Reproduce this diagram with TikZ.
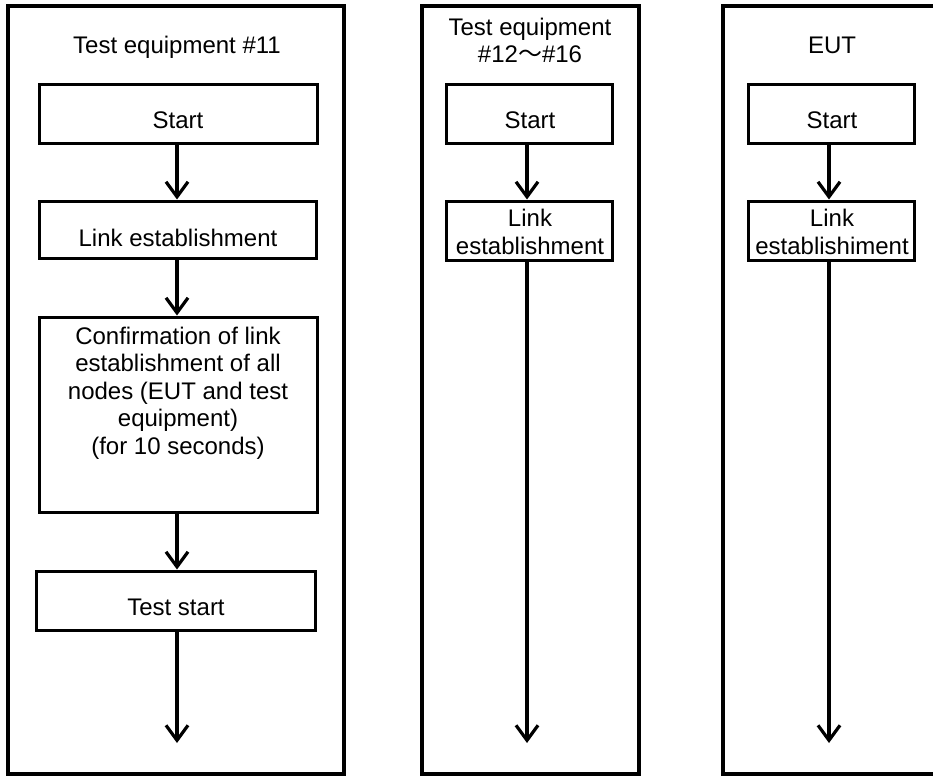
\documentclass[tikz,border=0pt]{standalone}
\usepackage{fontspec}
\setmainfont{Liberation Sans}
\newfontfamily\cjk{Noto Sans CJK JP}
\usetikzlibrary{arrows.meta}

\begin{document}
\begin{tikzpicture}[x=1pt,y=-1pt,
  panel/.style={draw,line width=3.5pt},
  stepbox/.style={draw,line width=3pt,rectangle,inner sep=0pt},
  txt/.style={anchor=base,inner sep=0pt,font=\fontsize{24}{27.5}\selectfont,align=center},
  flow/.style={line width=3.2pt,-{Straight Barb[length=15pt,width=22pt]}}
]
\useasboundingbox (0,0) rectangle (933,776);
\clip (0,0) rectangle (933,776);

% three lanes
\draw[panel] (8,6) rectangle (344,774);
\draw[panel] (422,6) rectangle (639,774);
\draw[panel] (723,6) rectangle (950,774);

% lane 1: test equipment #11
\coordinate (x1) at (177,0);
\node[txt] (t1) at (177,53) {Test equipment \#11};
\node[stepbox,minimum width=278pt,minimum height=59pt] (s1) at (178,113.5) {};
\node[txt] (s1t) at (178,128) {Start};
\node[stepbox,minimum width=277pt,minimum height=57pt] (l1) at (177.5,229.5) {};
\node[txt] (l1t) at (178,246) {Link establishment};
\node[stepbox,minimum width=278pt,minimum height=195pt] (c1) at (178,414.5) {};
\node[txt] (c1t) at (178,454) {Confirmation of link\\establishment of all\\nodes (EUT and test\\equipment)\\(for 10 seconds)};
\node[stepbox,minimum width=279pt,minimum height=59pt] (g1) at (175.5,600.5) {};
\node[txt] (g1t) at (176,615) {Test start};
\coordinate (e1) at (177,743);

\draw[flow] (x1 |- s1.south) -- (x1 |- l1.north);
\draw[flow] (x1 |- l1.south) -- (x1 |- c1.north);
\draw[flow] (x1 |- c1.south) -- (x1 |- g1.north);
\draw[flow] (x1 |- g1.south) -- (e1);

% lane 2: test equipment #12 to #16
\coordinate (x2) at (527,0);
\node[txt] (t2) at (530,63) {Test equipment\\\#12{\cjk ～}\#16};
\node[stepbox,minimum width=166pt,minimum height=59pt] (s2) at (529,113.5) {};
\node[txt] (s2t) at (530,128) {Start};
\node[stepbox,minimum width=166pt,minimum height=59pt] (l2) at (529,230.5) {};
\node[txt] (l2t) at (530,254) {Link\\establishment};
\coordinate (e2) at (527,743);

\draw[flow] (x2 |- s2.south) -- (x2 |- l2.north);
\draw[flow] (x2 |- l2.south) -- (e2);

% lane 3: EUT
\coordinate (x3) at (829,0);
\node[txt] (t3) at (832,53) {EUT};
\node[stepbox,minimum width=166pt,minimum height=59pt] (s3) at (831,113.5) {};
\node[txt] (s3t) at (832,128) {Start};
\node[stepbox,minimum width=166pt,minimum height=59pt] (l3) at (831,230.5) {};
\node[txt] (l3t) at (832,254) {Link\\establishiment};
\coordinate (e3) at (829,743);

\draw[flow] (x3 |- s3.south) -- (x3 |- l3.north);
\draw[flow] (x3 |- l3.south) -- (e3);
\end{tikzpicture}
\end{document}
